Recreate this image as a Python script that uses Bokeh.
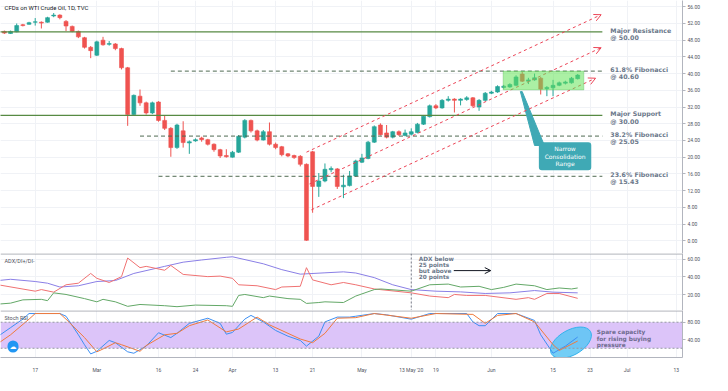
import pandas as pd
from bokeh.plotting import figure
from bokeh.layouts import column
from bokeh.models import (ColumnDataSource, Span, BoxAnnotation, Label, Arrow, OpenHead,
                          FixedTicker, NumeralTickFormatter, Range1d)
from bokeh.core.properties import value
from bokeh.embed import file_html
from bokeh.resources import INLINE

# ---------------- data ----------------
dates = [d.strftime("%Y-%m-%d") for d in pd.bdate_range("2020-02-10", "2020-07-17")
         if d.strftime("%Y-%m-%d") != "2020-04-10"]
pos = {d: i for i, d in enumerate(dates)}

opens = [50.1, 49.6, 50.0, 51.7, 51.8, 52.3, 52.3, 52.3, 53.8, 54.0,
         52.5, 51.3, 50.1, 48.6, 46.3, 44.4, 48.0, 47.0, 47.1, 46.0,
         41.4, 30.2, 34.6, 33.0, 30.6, 33.2, 28.8, 26.9, 22.3, 26.3,
         23.4, 23.9, 24.6, 24.2, 23.1, 21.8, 20.4, 20.0, 21.2, 24.8,
         28.8, 26.3, 24.1, 26.1, 23.1, 22.5, 20.8, 20.4, 20.2, 18.3,
         21.3, 13.0, 14.3, 17.0, 17.2, 12.9, 13.2, 15.5, 18.8, 19.7,
         23.6, 27.7, 25.8, 24.8, 26.1, 25.2, 25.5, 25.9, 27.9, 29.7,
         32.3, 31.8, 33.6, 33.9, 33.6, 33.8, 34.2, 32.0, 33.6, 35.3,
         35.6, 36.7, 36.8, 37.2, 39.9, 38.2, 38.5, 38.9, 36.4, 36.6,
         37.2, 37.7, 37.8, 38.8]
highs = [50.3, 50.3, 52.0, 51.9, 52.4, 53.3, 52.5, 53.6, 54.5, 54.2,
         52.8, 51.5, 50.3, 48.8, 46.6, 47.9, 48.8, 47.8, 47.3, 46.2,
         41.6, 35.0, 36.2, 33.3, 33.3, 33.4, 30.0, 27.2, 28.0, 28.6,
         24.0, 24.5, 24.9, 24.4, 23.3, 22.0, 21.9, 21.5, 25.3, 29.1,
         29.0, 26.6, 26.5, 28.3, 23.5, 22.7, 21.0, 20.6, 20.5, 18.5,
         21.5, 16.2, 18.5, 17.8, 17.4, 15.8, 16.7, 19.4, 20.8, 23.9,
         27.6, 28.1, 27.7, 26.3, 26.4, 26.6, 26.9, 28.2, 30.1, 32.6,
         32.7, 33.9, 34.6, 34.1, 34.1, 34.6, 34.4, 33.9, 35.6, 35.9,
         37.2, 37.3, 37.7, 39.6, 40.4, 39.0, 40.0, 39.2, 37.0, 38.5,
         38.1, 38.3, 39.2, 39.9]
lows = [49.5, 49.5, 49.9, 51.3, 51.7, 51.5, 50.8, 52.2, 53.5, 53.0,
        50.2, 49.9, 48.5, 46.0, 43.7, 44.2, 46.7, 46.7, 45.6, 41.0,
        27.5, 30.0, 32.3, 30.2, 30.3, 28.5, 26.5, 20.1, 22.0, 22.3,
        20.8, 23.7, 23.7, 22.8, 21.3, 19.8, 19.9, 19.9, 21.0, 24.5,
        25.9, 23.8, 24.0, 22.8, 21.9, 20.2, 20.0, 19.6, 17.8, 0.0,
        6.7, 10.5, 14.0, 16.4, 12.4, 10.2, 13.0, 15.3, 18.6, 19.5,
        23.4, 25.2, 24.5, 24.5, 25.1, 25.0, 25.2, 25.7, 27.7, 29.5,
        31.5, 31.6, 33.3, 30.7, 32.4, 33.5, 32.0, 31.1, 33.4, 35.1,
        35.4, 36.4, 36.6, 37.0, 38.0, 37.5, 38.3, 35.0, 34.6, 34.6,
        37.0, 37.4, 37.6, 38.6]
closes = [49.7, 50.1, 51.5, 51.5, 52.2, 52.4, 52.1, 53.4, 54.0, 53.4,
          51.4, 50.1, 48.8, 46.3, 45.5, 47.6, 46.9, 47.2, 46.0, 41.4,
          30.2, 34.8, 33.0, 30.6, 33.0, 28.8, 26.9, 22.3, 27.7, 23.5,
          23.7, 24.2, 24.2, 23.1, 21.8, 20.3, 20.1, 21.2, 25.0, 28.8,
          26.3, 24.1, 26.1, 23.1, 22.3, 20.6, 20.3, 19.9, 18.3, 0.1,
          13.0, 14.3, 17.1, 17.3, 13.0, 13.3, 15.5, 19.1, 19.8, 23.6,
          27.3, 25.4, 24.8, 26.1, 25.4, 25.8, 26.1, 27.9, 29.8, 32.3,
          31.8, 33.6, 33.9, 33.6, 33.9, 34.2, 32.3, 33.6, 35.3, 35.6,
          36.9, 37.0, 37.4, 39.2, 38.2, 38.5, 39.0, 36.3, 36.7, 37.2,
          37.8, 38.0, 38.9, 39.65]

# indicator readings: (bar index, value)
adx_pts = [(-1, 36.0), (1, 37.4), (5, 34.9), (7, 33.0), (9, 28.7), (12, 30.1), (15, 34.9), (18, 36.0),
           (21, 44.0), (26, 52.0), (29, 56.7), (32, 59.2), (36, 62.2), (37, 62.8), (42, 54.9), (45, 48.3),
           (48, 43.2), (52, 44.7), (55, 45.8), (57, 44.5), (60, 39.3), (63, 31.2), (66, 25.8), (70, 24.0),
           (74, 23.2), (78, 21.4), (82, 22.1), (86, 24.7), (89, 22.9), (93, 22.1)]
dim_pts = [(-1, 31.2), (5, 24.0), (6, 25.8), (8, 22.9), (10, 31.2), (12, 33.0), (14, 44.0), (15, 38.5),
           (17, 33.8), (19, 40.4), (20, 61.4), (22, 50.5), (23, 52.0), (26, 47.6), (27, 53.0), (29, 42.9),
           (33, 40.4), (35, 41.0), (37, 38.5), (38, 31.2), (41, 30.1), (44, 25.8), (45, 28.7), (48, 29.5),
           (49, 50.5), (50, 36.7), (53, 31.2), (55, 33.8), (57, 31.2), (60, 26.5), (66, 22.1), (69, 18.5),
           (72, 16.7), (73, 20.3), (75, 19.2), (78, 19.2), (83, 14.8), (85, 16.7), (86, 14.8), (88, 21.4),
           (90, 21.4), (93, 15.9)]
dip_pts = [(-1, 9.4), (1, 10.5), (3, 14.2), (6, 14.8), (7, 13.3), (8, 22.1), (10, 20.3), (13, 15.6),
           (15, 12.0), (16, 14.8), (18, 12.0), (20, 6.9), (22, 9.0), (26, 7.6), (28, 6.5), (31, 8.3),
           (36, 7.6), (37, 6.9), (38, 19.2), (39, 20.3), (42, 16.7), (43, 18.5), (46, 15.6), (48, 14.8),
           (49, 10.2), (51, 11.2), (52, 12.0), (55, 11.2), (57, 18.5), (60, 25.8), (61, 26.5), (66, 24.0),
           (69, 31.2), (72, 32.0), (74, 28.7), (77, 29.5), (79, 25.8), (81, 28.3), (83, 32.0), (86, 30.1),
           (88, 25.8), (90, 27.6), (92, 26.5), (93, 27.6)]
k_pts = [(-1, 47.8), (1, 67.5), (3, 87.2), (4, 100), (9, 100), (10, 93.8), (12, 51.0), (13, 28.0),
         (14, 7.0), (15, 13.0), (17, 38.0), (18, 32.8), (20, 11.8), (21, 8.5), (23, 24.9), (25, 55.7),
         (27, 44.6), (28, 54.4), (30, 77.4), (33, 89.2), (35, 77.4), (36, 52.4), (37, 56.4), (39, 87.2),
         (40, 95.7), (42, 80.7), (44, 61.0), (46, 47.8), (48, 38.0), (49, 24.9), (51, 47.8), (52, 80.7),
         (54, 91.8), (56, 91.8), (57, 93.8), (60, 100), (62, 97.0), (66, 87.0), (69, 100), (75, 100),
         (76, 80.7), (77, 72.0), (78, 72.0), (80, 100), (83, 100), (86, 84.0), (87, 51.0), (89, 8.5),
         (91, 24.9), (93, 45.9)]
d_pts = [(-1, 31.4), (1, 51.0), (4, 87.0), (5, 100), (9, 100), (10, 87.0), (13, 44.6), (15, 11.8),
         (16, 18.3), (18, 32.8), (19, 28.2), (22, 13.0), (23, 26.2), (26, 51.0), (28, 54.4), (30, 72.0),
         (33, 85.2), (36, 57.7), (38, 64.3), (41, 91.8), (43, 74.0), (46, 54.4), (48, 41.3), (50, 32.8),
         (52, 54.4), (54, 89.2), (57, 90.5), (60, 100), (66, 89.2), (70, 100), (76, 98.0), (78, 77.4),
         (80, 95.7), (83, 100), (86, 80.7), (89, 28.2), (90, 15.0), (93, 36.7)]

tick_dates = ["2020-02-17", "2020-03-02", "2020-03-16", "2020-03-24", "2020-04-01", "2020-04-13",
              "2020-04-21", "2020-05-01", "2020-05-13", "2020-05-19", "2020-06-01", "2020-06-15",
              "2020-06-23", "2020-07-01", "2020-07-13"]
tick_labels = ["17", "Mar", "16", "24", "Apr", "13", "21", "May", "13 May '20", "19", "Jun", "15",
               "23", "Jul", "13"]
crosshair_date = "2020-05-13"

level_values = [50.00, 40.60, 30.00, 25.05, 15.43]
level_names = ["Major Resistance", "61.8% Fibonacci", "Major Support", "38.2% Fibonacci", "23.6% Fibonacci"]
level_solid = [True, False, True, False, False]
level_from = [None, "2020-03-18", None, "2020-03-11", "2020-03-16"]
level_to = "2020-06-25"

# channel trend lines (bar index, price)
chan_x0 = [49.0, 49.5, 49.8]
chan_y0 = [21.2, 13.6, 7.4]
chan_x1 = [96.8, 96.8, 95.9]
chan_y1 = [54.1, 46.2, 38.9]

# consolidation box and callout
box_x = [80.9, 94.0]
box_y = [36.1, 40.6]
callout_x = [86.7, 95.2]
callout_y = [16.9, 23.6]
callout_text = "Narrow\nConsolidation\nRange"
pointer_x = [83.7, 84.0, 87.6, 86.0]
pointer_y = [35.7, 35.7, 22.8, 22.8]

adx_note = "ADX below\n25 points\nbut above\n20 points"
adx_note_xy = (67.2, 63.6)
adx_arrow = (72.9, 78.9, 47.2)
stoch_note = "Spare capacity\nfor rising buying\npressure"
stoch_note_xy = (96.1, 63.7)
ellipse_xy = (91.9, 33.0)

# ---------------- styling ----------------
UP, DOWN = "#26a69a", "#ef5350"
GRID = "#f0f2f6"
AXC = "#b2b5be"
LBL = "#50535e"
NOTE = "#6b788a"
W = 712
xr = Range1d(-0.63, 110.0)
tick_pos = [pos[d] for d in tick_dates]


def make_fig(h, yr, ticks, below=False):
    p = figure(width=W, height=h, x_range=xr, y_range=yr, output_backend="svg",
               toolbar_location=None, x_axis_location="below" if below else None,
               y_axis_location="right", min_border_left=0, min_border_right=30,
               min_border_top=0, min_border_bottom=12 if below else 0)
    p.outline_line_color = None
    p.xgrid.ticker = FixedTicker(ticks=tick_pos)
    p.xgrid.grid_line_color = GRID
    p.ygrid.grid_line_color = GRID
    ax = p.yaxis[0]
    ax.ticker = FixedTicker(ticks=ticks)
    ax.formatter = NumeralTickFormatter(format="0.00")
    ax.axis_line_color = AXC
    ax.major_tick_line_color = AXC
    ax.major_tick_out = 3
    ax.major_tick_in = 0
    ax.minor_tick_line_color = None
    ax.major_label_text_font = "Roboto"
    ax.major_label_text_font_size = "5px"
    ax.major_label_text_color = LBL
    ax.major_label_standoff = 2
    return p


# ---------------- main pane ----------------
pm = make_fig(253, Range1d(-3.05, 57.5), list(range(0, 57, 4)))

n = len(closes)
src = ColumnDataSource(dict(
    x=list(range(n)), high=highs, low=lows,
    top=[max(o, c) for o, c in zip(opens, closes)],
    bottom=[min(o, c) for o, c in zip(opens, closes)],
    color=[UP if c >= o else DOWN for o, c in zip(opens, closes)]))
pm.segment(x0="x", y0="low", x1="x", y1="high", line_color="color", line_width=1, source=src)
pm.vbar(x="x", width=0.64, top="top", bottom="bottom", fill_color="color",
        line_color="color", line_width=0.6, source=src)

end_x = pos[level_to]
sol = ColumnDataSource(dict(
    x0=[xr.start - 1 if f is None else pos[f] for f, s in zip(level_from, level_solid) if s],
    x1=[end_x for s in level_solid if s],
    y=[v for v, s in zip(level_values, level_solid) if s]))
das = ColumnDataSource(dict(
    x0=[pos[f] for f, s in zip(level_from, level_solid) if not s],
    x1=[end_x for s in level_solid if not s],
    y=[v for v, s in zip(level_values, level_solid) if not s]))
pm.segment(x0="x0", y0="y", x1="x1", y1="y", line_color="#578a43", line_width=1.1, source=sol)
pm.segment(x0="x0", y0="y", x1="x1", y1="y", line_color="#4f6a52", line_width=1,
           line_dash="4 3", source=das)

lab_src = ColumnDataSource(dict(
    x=[end_x] * len(level_values), y=level_values,
    t=[f"{nm}\n@ {v:.2f}" for nm, v in zip(level_names, level_values)]))
pm.text(x="x", y="y", text="t", source=lab_src, x_offset=8, y_offset=2,
        text_font=value("DejaVu Sans"), text_font_style="bold", text_font_size="6.3px",
        text_color=NOTE, text_baseline="middle", text_line_height=1.05)

chan_src = ColumnDataSource(dict(x0=chan_x0, y0=chan_y0, x1=chan_x1, y1=chan_y1))
pm.add_layout(Arrow(source=chan_src, x_start="x0", y_start="y0", x_end="x1", y_end="y1",
                    line_color="#ec4557", line_width=1, line_dash="3 3",
                    end=OpenHead(size=7, line_color="#ec4557", line_width=1)))

pm.patch(x=pointer_x, y=pointer_y, fill_color="#3fa9b5", line_color="#3fa9b5")

pm.add_layout(BoxAnnotation(left=box_x[0], right=box_x[1], bottom=box_y[0], top=box_y[1],
                            fill_color="#66e35a", fill_alpha=0.55, line_color="#4caf50",
                            line_width=1))
pm.add_layout(BoxAnnotation(left=callout_x[0], right=callout_x[1], bottom=callout_y[0],
                            top=callout_y[1], fill_color="#3fa9b5", fill_alpha=1,
                            line_color=None, border_radius=3))
pm.add_layout(Label(x=sum(callout_x) / 2, y=sum(callout_y) / 2, text=callout_text,
                    text_align="center", text_baseline="middle", text_color="white",
                    text_font="DejaVu Sans", text_font_size="6px", text_line_height=1.1))

pm.add_layout(Label(x=xr.start, y=57.5, x_offset=4, y_offset=-3,
                    text="CFDs on WTI Crude Oil, 1D, TVC", text_baseline="top",
                    text_font="Roboto", text_font_size="6px", text_color="#131722"))

# ---------------- ADX pane ----------------
pa = make_fig(57, Range1d(2.2, 66.5), [20, 40, 60])
pa.add_layout(Span(location=66.5 - 0.5, dimension="width", line_color="#9598a1", line_width=1))
for pts, col in ((adx_pts, "#8a7fe6"), (dim_pts, "#f07272"), (dip_pts, "#63a867")):
    pa.line([a for a, b in pts], [b for a, b in pts], line_color=col, line_width=1)
pa.add_layout(Span(location=pos[crosshair_date], dimension="height", line_color="#787b86",
                   line_width=1, line_dash="2 2"))
pa.text(x=[adx_note_xy[0]], y=[adx_note_xy[1]], text=[adx_note], text_font=value("DejaVu Sans"),
        text_font_style="bold", text_font_size="5.8px", text_color=NOTE, text_baseline="top",
        text_line_height=1.0)
pa.add_layout(Arrow(x_start=adx_arrow[0], y_start=adx_arrow[2], x_end=adx_arrow[1],
                    y_end=adx_arrow[2], line_color="#131722", line_width=1,
                    end=OpenHead(size=6, line_color="#131722", line_width=1)))
pa.add_layout(Label(x=xr.start, y=66.5, x_offset=4, y_offset=-4, text="ADX/DI+/DI-",
                    text_baseline="top", text_font="Roboto", text_font_size="5.5px",
                    text_color=LBL))

# ---------------- Stoch RSI pane ----------------
ps = make_fig(65, Range1d(-1.3, 107), [40, 80], below=True)
ps.add_layout(Span(location=107 - 1.0, dimension="width", line_color="#9598a1", line_width=1))
ps.add_layout(BoxAnnotation(bottom=20, top=80, fill_color="#dcc4f9", fill_alpha=1,
                            line_color=None, level="underlay"))
for lv in (20, 80):
    ps.add_layout(Span(location=lv, dimension="width", line_color="#9598a1", line_width=1,
                       line_dash="2 2"))
ps.ellipse(x=[ellipse_xy[0]], y=[ellipse_xy[1]], width=[45], height=[25], angle=0.52,
           width_units="screen", height_units="screen", fill_color="#5ac6f5",
           fill_alpha=0.85, line_color="#33b2ec")
ps.line([a for a, b in k_pts], [b for a, b in k_pts], line_color="#3d8ff2", line_width=1)
ps.line([a for a, b in d_pts], [b for a, b in d_pts], line_color="#f07a3c", line_width=1)
ps.text(x=[stoch_note_xy[0]], y=[stoch_note_xy[1]], text=[stoch_note],
        text_font=value("DejaVu Sans"), text_font_style="bold", text_font_size="5.8px",
        text_color="#6d6a8e", text_baseline="top", text_line_height=1.05)
ps.add_layout(Label(x=xr.start, y=107, x_offset=4, y_offset=-4, text="Stoch RSI",
                    text_baseline="top", text_font="Roboto", text_font_size="5.5px",
                    text_color=LBL))
ps.add_layout(Label(x=xr.start, y=-1.3, x_offset=7, y_offset=5, text="\u2601",
                    text_baseline="bottom", text_font="DejaVu Sans", text_font_size="7px",
                    text_color="white", background_fill_color="#2196f3", padding=2,
                    border_radius=6))

xa = ps.xaxis[0]
xa.ticker = FixedTicker(ticks=tick_pos)
xa.major_label_overrides = {pos[d]: t for d, t in zip(tick_dates, tick_labels)}
xa.axis_line_color = AXC
xa.major_tick_line_color = None
xa.minor_tick_line_color = None
xa.major_label_text_font = "Roboto"
xa.major_label_text_font_size = "5px"
xa.major_label_text_color = LBL
xa.major_label_standoff = 3

p = column(pm, pa, ps, spacing=0)
open("out.html", "w").write(file_html(p, INLINE))
